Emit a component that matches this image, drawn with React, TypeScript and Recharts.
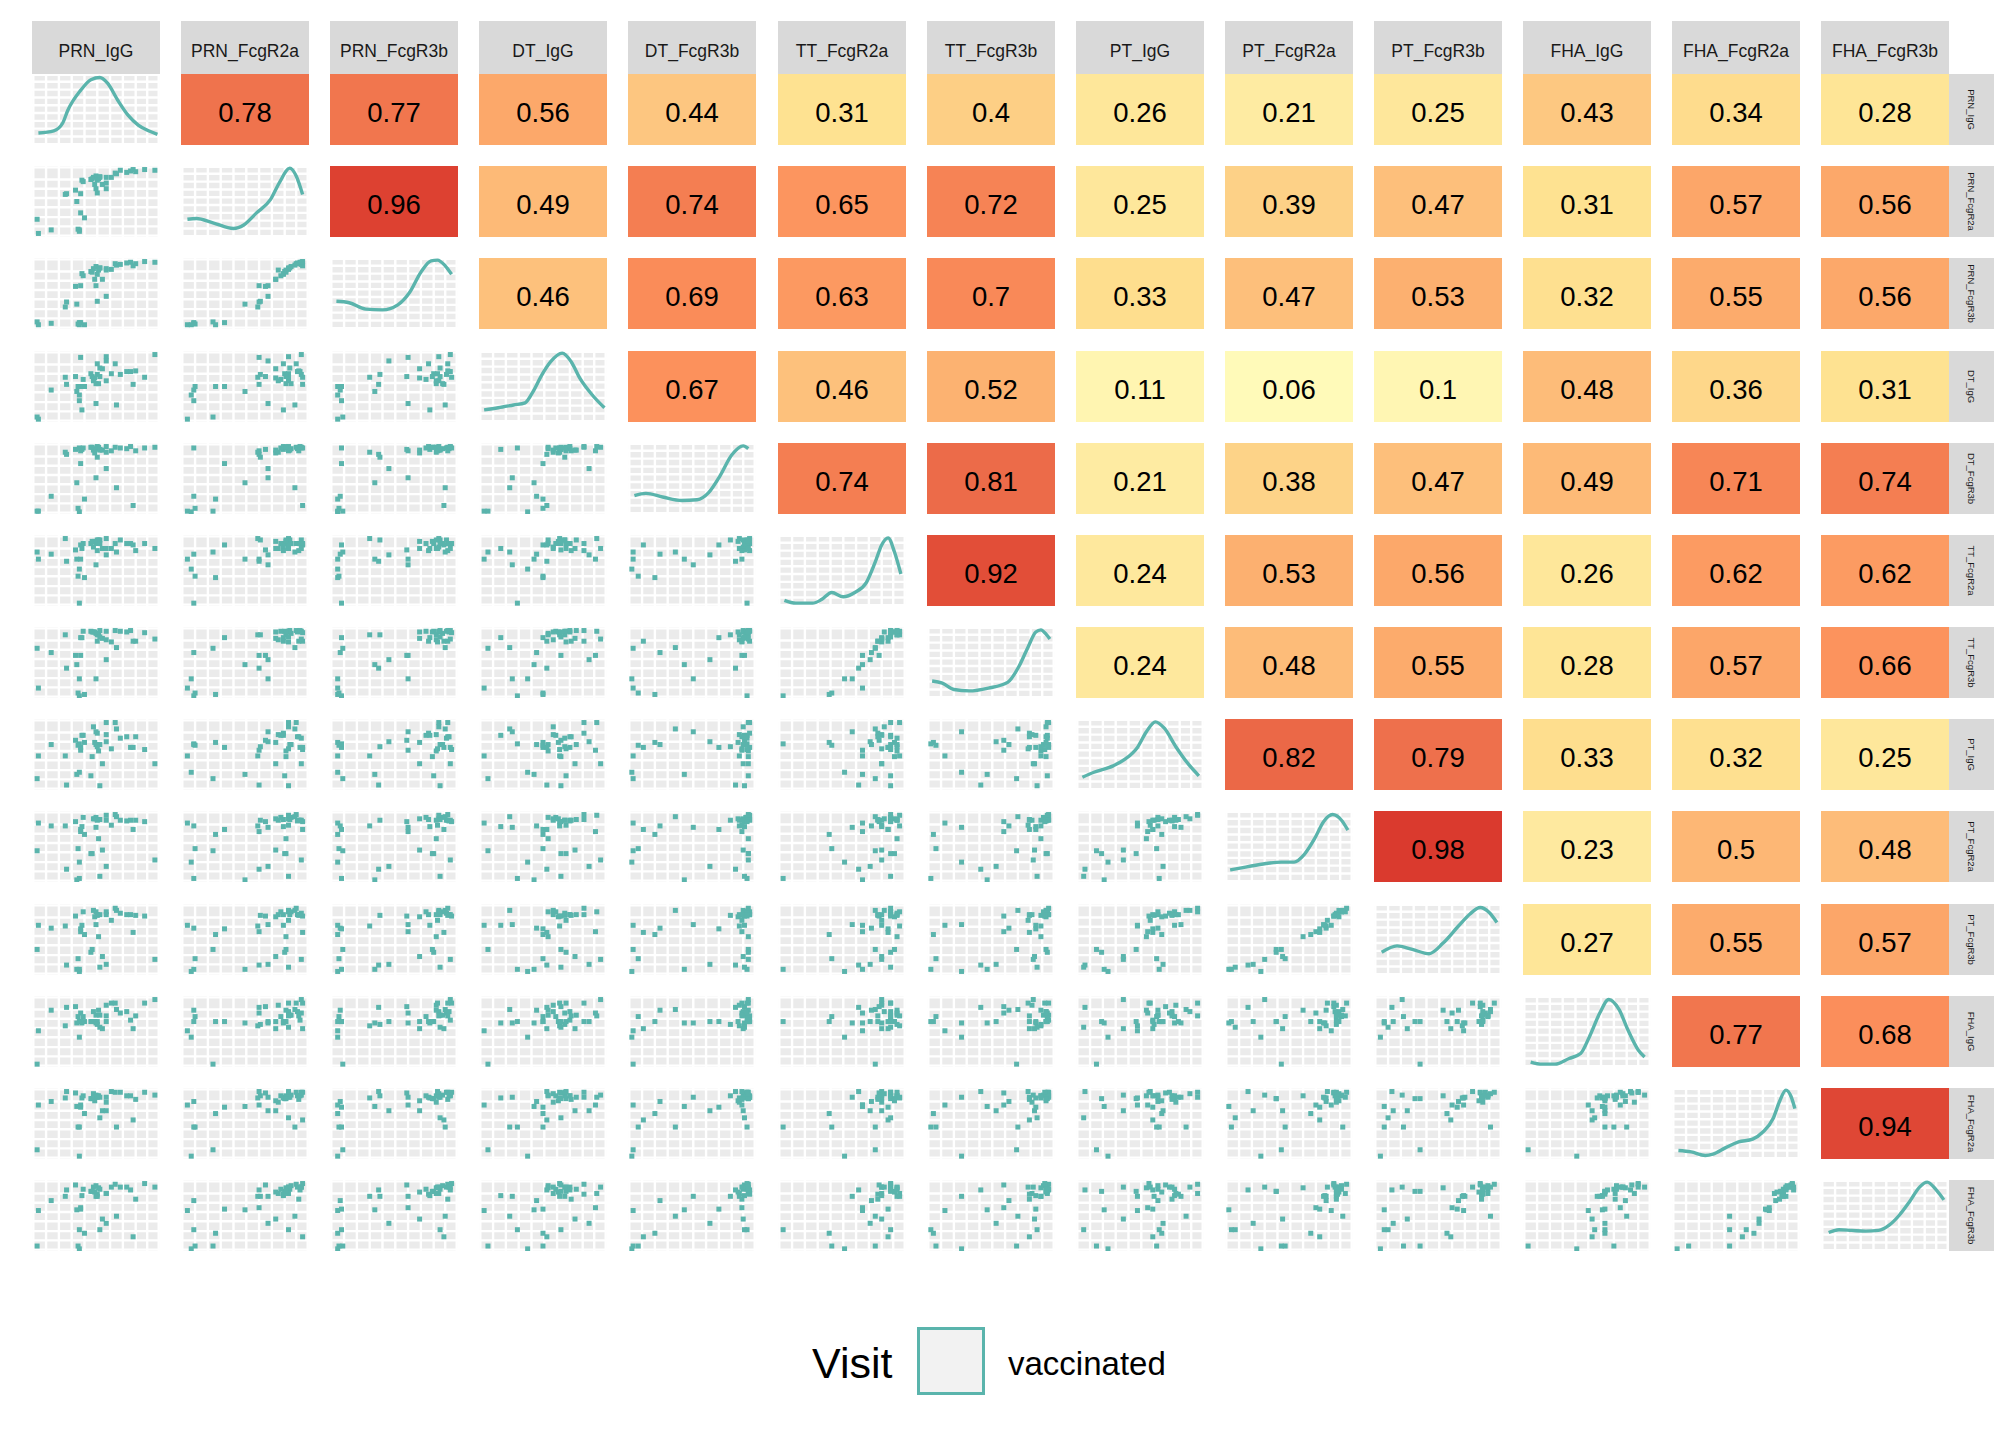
import React from 'react';
import { ScatterChart, Scatter, LineChart, Line, BarChart, Bar, XAxis, YAxis, CartesianGrid, LabelList } from 'recharts';

// ---------- variables (strip labels) ----------
const VARS = ['PRN_IgG', 'PRN_FcgR2a', 'PRN_FcgR3b', 'DT_IgG', 'DT_FcgR3b', 'TT_FcgR2a', 'TT_FcgR3b', 'PT_IgG', 'PT_FcgR2a', 'PT_FcgR3b', 'FHA_IgG', 'FHA_FcgR2a', 'FHA_FcgR3b'];

// ---------- observations (position within each variable's range, 0-100) ----------
const PRN_IgG = [5, 4, 15, 26, 27, 34, 35, 38, 39, 40, 38, 41, 36, 37, 37, 46, 48, 50, 52, 53, 51, 49, 50, 51, 55, 58, 58, 58, 62, 65, 69, 74, 77, 79, 81, 88, 96, 53, 47, 66];
const PRN_FcgR2a = [5, 25, 10, 60, 61, 66, 50, 61, 80, 78, 34, 27, 11, 8, 10, 81, 84, 86, 82, 85, 80, 74, 68, 62, 74, 84, 68, 76, 84, 90, 94, 91, 93, 95, 92, 95, 94, 84, 82, 89];
const PRN_FcgR3b = [6, 10, 8, 31, 38, 60, 35, 61, 78, 75, 9, 6, 7, 6, 9, 81, 85, 88, 83, 86, 77, 70, 61, 39, 70, 85, 46, 83, 84, 92, 91, 93, 94, 89, 92, 95, 94, 86, 80, 90];
const DT_IgG = [4, 7, 45, 63, 53, 64, 43, 91, 17, 60, 50, 50, 50, 38, 30, 68, 58, 54, 54, 76, 82, 62, 26, 67, 75, 92, 86, 58, 68, 82, 67, 71, 71, 53, 72, 63, 95, 64, 64, 24];
const DT_FcgR3b = [4, 4, 25, 87, 84, 91, 44, 89, 91, 93, 71, 21, 8, 3, 93, 94, 90, 92, 94, 90, 95, 86, 51, 80, 90, 95, 64, 87, 89, 94, 93, 92, 95, 12, 89, 93, 94, 91, 94, 37];
const TT_FcgR2a = [66, 76, 73, 95, 63, 79, 66, 66, 81, 88, 86, 40, 42, 52, 4, 88, 83, 88, 93, 93, 78, 91, 58, 93, 81, 95, 72, 81, 81, 88, 93, 88, 88, 86, 78, 88, 81, 88, 91, 76];
const TT_FcgR3b = [14, 70, 64, 89, 42, 60, 47, 60, 85, 94, 85, 5, 7, 27, 3, 94, 93, 91, 89, 95, 80, 93, 27, 89, 84, 94, 54, 82, 79, 95, 94, 93, 95, 80, 80, 92, 83, 86, 93, 71];
const PT_IgG = [48, 16, 64, 48, 7, 70, 22, 56, 77, 77, 60, 67, 63, 25, 65, 20, 89, 64, 55, 64, 80, 67, 82, 61, 37, 95, 68, 78, 58, 95, 73, 75, 60, 60, 75, 57, 37, 6, 47, 86];
const PT_FcgR2a = [83, 44, 79, 79, 18, 85, 3, 71, 78, 91, 74, 67, 47, 28, 5, 40, 89, 91, 61, 88, 88, 89, 77, 87, 45, 94, 22, 87, 80, 95, 87, 86, 87, 74, 87, 85, 31, 8, 40, 92];
const PT_FcgR3b = [70, 36, 66, 69, 14, 83, 8, 61, 70, 89, 65, 57, 23, 5, 8, 32, 91, 89, 54, 85, 85, 82, 71, 84, 26, 89, 15, 85, 77, 94, 87, 85, 85, 60, 84, 83, 22, 11, 36, 91];
const FHA_IgG = [51, 4, 80, 58, 84, 85, 62, 76, 62, 71, 64, 64, 71, 42, 64, 64, 78, 73, 80, 73, 64, 64, 62, 60, 54, 72, 64, 87, 90, 90, 76, 78, 66, 54, 72, 90, 95, 56, 64, 81];
const FHA_FcgR2a = [76, 13, 81, 86, 95, 93, 74, 76, 86, 89, 73, 64, 45, 4, 45, 85, 92, 90, 89, 87, 87, 82, 87, 89, 68, 87, 68, 80, 95, 94, 94, 89, 89, 55, 84, 94, 90, 58, 85, 45];
const FHA_FcgR3b = [57, 7, 71, 77, 86, 93, 58, 61, 78, 87, 59, 25, 7, 3, 30, 84, 90, 92, 89, 87, 80, 83, 77, 77, 45, 81, 39, 81, 90, 94, 90, 90, 86, 20, 73, 95, 90, 30, 84, 49];

// ---------- density curves on the diagonal: [x, y] within the panel (0-100) ----------
const DENS_PRN_IgG = [[5, 17], [17, 20], [24, 31], [28, 49], [38, 77], [46, 92], [53, 95], [59, 87], [67, 63], [75, 42], [83, 28], [91, 20], [98, 15]];
const DENS_PRN_FcgR2a = [[5, 25], [12, 26], [25, 20], [41, 12], [49, 17], [59, 34], [70, 53], [77, 77], [85, 97], [90, 86], [95, 60]];
const DENS_PRN_FcgR3b = [[5, 39], [15, 37], [28, 28], [41, 27], [53, 34], [62, 51], [71, 80], [79, 96], [84, 97], [90, 89], [95, 77]];
const DENS_DT_IgG = [[4, 17], [15, 20], [27, 24], [36, 27], [42, 42], [49, 66], [56, 85], [65, 97], [72, 85], [79, 61], [89, 37], [98, 20]];
const DENS_DT_FcgR3b = [[5, 26], [14, 29], [27, 24], [42, 19], [54, 20], [63, 30], [72, 54], [81, 83], [90, 96], [94, 92]];
const DENS_TT_FcgR2a = [[5, 8], [14, 4], [27, 4], [34, 9], [42, 19], [51, 13], [60, 19], [69, 33], [76, 62], [81, 86], [86, 96], [91, 76], [96, 45]];
const DENS_TT_FcgR3b = [[4, 24], [12, 21], [21, 12], [33, 10], [48, 14], [63, 22], [72, 45], [79, 72], [85, 93], [89, 96], [93, 90], [96, 83]];
const DENS_PT_IgG = [[5, 18], [14, 25], [29, 34], [38, 43], [48, 60], [55, 82], [62, 96], [69, 87], [78, 61], [88, 36], [96, 20]];
const DENS_PT_FcgR2a = [[4, 17], [16, 21], [32, 26], [44, 28], [54, 28], [62, 39], [70, 61], [77, 85], [84, 95], [91, 87], [96, 73]];
const DENS_PT_FcgR3b = [[6, 32], [18, 41], [30, 36], [43, 30], [54, 45], [66, 69], [75, 86], [83, 95], [90, 88], [96, 74]];
const DENS_FHA_IgG = [[6, 7], [15, 4], [25, 4], [36, 12], [45, 19], [52, 43], [60, 76], [67, 95], [75, 81], [82, 52], [90, 24], [95, 14]];
const DENS_FHA_FcgR2a = [[5, 12], [15, 10], [26, 5], [32, 7], [42, 16], [52, 24], [63, 28], [71, 38], [79, 57], [84, 81], [89, 97], [93, 88], [96, 71]];
const DENS_FHA_FcgR3b = [[6, 26], [14, 30], [24, 29], [35, 28], [45, 29], [53, 36], [61, 50], [69, 69], [77, 90], [83, 97], [90, 86], [96, 72]];

// ---------- correlations (upper triangle, row by row) ----------
const CORR_PRN_IgG = [0.78, 0.77, 0.56, 0.44, 0.31, 0.4, 0.26, 0.21, 0.25, 0.43, 0.34, 0.28];
const CORR_PRN_FcgR2a = [0.96, 0.49, 0.74, 0.65, 0.72, 0.25, 0.39, 0.47, 0.31, 0.57, 0.56];
const CORR_PRN_FcgR3b = [0.46, 0.69, 0.63, 0.7, 0.33, 0.47, 0.53, 0.32, 0.55, 0.56];
const CORR_DT_IgG = [0.67, 0.46, 0.52, 0.11, 0.06, 0.1, 0.48, 0.36, 0.31];
const CORR_DT_FcgR3b = [0.74, 0.81, 0.21, 0.38, 0.47, 0.49, 0.71, 0.74];
const CORR_TT_FcgR2a = [0.92, 0.24, 0.53, 0.56, 0.26, 0.62, 0.62];
const CORR_TT_FcgR3b = [0.24, 0.48, 0.55, 0.28, 0.57, 0.66];
const CORR_PT_IgG = [0.82, 0.79, 0.33, 0.32, 0.25];
const CORR_PT_FcgR2a = [0.98, 0.23, 0.5, 0.48];
const CORR_PT_FcgR3b = [0.27, 0.55, 0.57];
const CORR_FHA_IgG = [0.77, 0.68];
const CORR_FHA_FcgR2a = [0.94];

// ---------- fill scale for correlation tiles ----------
const FILL_STOPS = [0, 0.06, 0.21, 0.31, 0.44, 0.56, 0.67, 0.74, 0.81, 0.92, 0.98, 1];
const FILL_COLORS = ['#FFFFBF', '#FFFAB9', '#FEEBA2', '#FEE291', '#FDC680', '#FCA86A', '#FC915C', '#F47E52', '#EC6B49', '#E24E38', '#DA3A2E', '#D73027'];

// ---------- grid breaks ----------
const GRID_X = [1, 11, 21, 31, 41, 51, 61, 71, 81, 90, 99];
const GRID_Y = [2, 15, 28, 42, 55, 68, 81, 98];
const GRID_Y_DENS = [1, 12, 23, 34, 45, 56, 67, 78, 89, 99];

const LEGEND_TITLE = 'Visit';
const LEGEND_LABELS = ['vaccinated'];

// ---------- assembled lookups ----------
const OBS = [PRN_IgG, PRN_FcgR2a, PRN_FcgR3b, DT_IgG, DT_FcgR3b, TT_FcgR2a, TT_FcgR3b, PT_IgG, PT_FcgR2a, PT_FcgR3b, FHA_IgG, FHA_FcgR2a, FHA_FcgR3b];
const DENS = [DENS_PRN_IgG, DENS_PRN_FcgR2a, DENS_PRN_FcgR3b, DENS_DT_IgG, DENS_DT_FcgR3b, DENS_TT_FcgR2a, DENS_TT_FcgR3b, DENS_PT_IgG, DENS_PT_FcgR2a, DENS_PT_FcgR3b, DENS_FHA_IgG, DENS_FHA_FcgR2a, DENS_FHA_FcgR3b];
const CORR = [CORR_PRN_IgG, CORR_PRN_FcgR2a, CORR_PRN_FcgR3b, CORR_DT_IgG, CORR_DT_FcgR3b, CORR_TT_FcgR2a, CORR_TT_FcgR3b, CORR_PT_IgG, CORR_PT_FcgR2a, CORR_PT_FcgR3b, CORR_FHA_IgG, CORR_FHA_FcgR2a];

const TEAL = '#5AB4AC';
const FONT = '"Liberation Sans", Arial, Helvetica, sans-serif';
const LEFT0 = 32;
const COL_PITCH = 149.1;
const TOP0 = 74;
const ROW_PITCH = 92.17;
const CW = 128;
const CH = 71;

function hexToRgb(h: string) {
  const n = parseInt(h.slice(1), 16);
  return [(n >> 16) & 255, (n >> 8) & 255, n & 255];
}
function fillFor(v: number) {
  for (let i = 0; i < FILL_STOPS.length - 1; i++) {
    if (v <= FILL_STOPS[i + 1]) {
      const t = (v - FILL_STOPS[i]) / (FILL_STOPS[i + 1] - FILL_STOPS[i]);
      const a = hexToRgb(FILL_COLORS[i]);
      const b = hexToRgb(FILL_COLORS[i + 1]);
      const c = a.map((av, k) => Math.round(av + (b[k] - av) * t));
      return `rgb(${c[0]},${c[1]},${c[2]})`;
    }
  }
  return FILL_COLORS[FILL_COLORS.length - 1];
}

const margin0 = { top: 0, right: 0, bottom: 0, left: 0 };

// grid lines placed through the axis scales (fallback: linear map of the 0-100 domain)
function scaleX(props: any, t: number) {
  const s = props?.xAxis?.scale;
  if (typeof s === 'function') return s(t);
  const o = props?.offset ?? { left: 0, width: CW };
  return o.left + (t / 100) * o.width;
}
function scaleY(props: any, t: number) {
  const s = props?.yAxis?.scale;
  if (typeof s === 'function') return s(t);
  const o = props?.offset ?? { top: 0, height: CH };
  return o.top + (1 - t / 100) * o.height;
}
const vGen = (props: any) => GRID_X.map((t) => scaleX(props, t));
const hGen = (props: any) => GRID_Y.map((t) => scaleY(props, t));
const hGenDens = (props: any) => GRID_Y_DENS.map((t) => scaleY(props, t));

const SquarePoint = (props: any) => {
  const { cx, cy } = props;
  if (cx == null || cy == null) return null;
  return <rect x={cx - 2.5} y={cy - 2.5} width={5} height={5} fill={TEAL} />;
};

const CorrLabel = (props: any) => {
  const { x, y, width, height, value } = props;
  return (
    <text x={x + width / 2} y={y + height / 2 + 12} textAnchor="middle" fontSize={27.5} fontFamily={FONT} fill="#000000">
      {String(value)}
    </text>
  );
};

function ScatterCell({ r, c }: { r: number; c: number }) {
  const data = OBS[c].map((xv, k) => ({ x: xv, y: OBS[r][k] }));
  return (
    <ScatterChart width={CW} height={CH} margin={margin0}>
      <CartesianGrid
        fill="#EBEBEB"
        fillOpacity={1}
        stroke="#FFFFFF"
        strokeWidth={2.4}
        verticalCoordinatesGenerator={vGen}
        horizontalCoordinatesGenerator={hGen}
      />
      <XAxis type="number" dataKey="x" domain={[0, 100]} hide />
      <YAxis type="number" dataKey="y" domain={[0, 100]} hide />
      <Scatter data={data} shape={SquarePoint} isAnimationActive={false} />
    </ScatterChart>
  );
}

function DensityCell({ i }: { i: number }) {
  const data = DENS[i].map(([x, y]) => ({ x, y }));
  return (
    <LineChart width={CW} height={CH} data={data} margin={margin0}>
      <CartesianGrid
        fill="#EBEBEB"
        fillOpacity={1}
        stroke="#FFFFFF"
        strokeWidth={2.4}
        verticalCoordinatesGenerator={vGen}
        horizontalCoordinatesGenerator={hGenDens}
      />
      <XAxis type="number" dataKey="x" domain={[0, 100]} hide />
      <YAxis type="number" domain={[0, 100]} hide />
      <Line type="monotone" dataKey="y" stroke={TEAL} strokeWidth={3.4} dot={false} isAnimationActive={false} />
    </LineChart>
  );
}

function CorrCell({ r, c }: { r: number; c: number }) {
  const v = CORR[r][c - r - 1];
  const data = [{ k: VARS[c], full: 1, r: v }];
  return (
    <BarChart width={CW} height={CH} data={data} margin={margin0} barCategoryGap={0}>
      <XAxis dataKey="k" type="category" hide />
      <YAxis type="number" domain={[0, 1]} hide />
      <Bar dataKey="full" fill={fillFor(v)} isAnimationActive={false}>
        <LabelList dataKey="r" content={CorrLabel} />
      </Bar>
    </BarChart>
  );
}

export default function App() {
  const cells: React.ReactNode[] = [];
  for (let r = 0; r < 13; r++) {
    for (let c = 0; c < 13; c++) {
      const left = Math.round(LEFT0 + c * COL_PITCH);
      const top = Math.round(TOP0 + r * ROW_PITCH);
      let inner: React.ReactNode;
      if (r === c) inner = <DensityCell i={r} />;
      else if (c > r) inner = <CorrCell r={r} c={c} />;
      else inner = <ScatterCell r={r} c={c} />;
      cells.push(
        <div key={`${r}-${c}`} style={{ position: 'absolute', left, top, width: CW, height: CH }}>
          {inner}
        </div>
      );
    }
  }
  return (
    <div style={{ position: 'absolute', left: 0, top: 0, width: 2016, height: 1440, background: '#FFFFFF', fontFamily: FONT }}>
      <svg style={{ position: 'absolute', left: 0, top: 0 }} width={2016} height={1300}>
        {VARS.map((name, c) => {
          const left = Math.round(LEFT0 + c * COL_PITCH);
          return (
            <g key={`ts-${name}`}>
              <rect x={left} y={21} width={CW} height={53} fill="#D9D9D9" />
              <text x={left + CW / 2} y={57.3} textAnchor="middle" fontSize={17.5} fontFamily={FONT} fill="#1A1A1A">{name}</text>
            </g>
          );
        })}
        {VARS.map((name, r) => {
          const top = Math.round(TOP0 + r * ROW_PITCH);
          return (
            <g key={`rs-${name}`}>
              <rect x={1949} y={top} width={45} height={CH} fill="#D9D9D9" />
              <text
                x={0}
                y={0}
                transform={`translate(${1949 + 22.5 - 3.3}, ${top + CH / 2}) rotate(90)`}
                textAnchor="middle"
                fontSize={9.5}
                fontFamily={FONT}
                fill="#1A1A1A"
              >
                {name}
              </text>
            </g>
          );
        })}
      </svg>
      {cells}
      <svg style={{ position: 'absolute', left: 0, top: 1300 }} width={2016} height={120}>
        <text x={812} y={78} fontSize={43} fontFamily={FONT} fill="#000000">{LEGEND_TITLE}</text>
        <rect x={918.5} y={28.5} width={65} height={65} fill="#F2F2F2" stroke={TEAL} strokeWidth={3} />
        <text x={1008} y={75} fontSize={33} fontFamily={FONT} fill="#000000">{LEGEND_LABELS[0]}</text>
      </svg>
    </div>
  );
}
